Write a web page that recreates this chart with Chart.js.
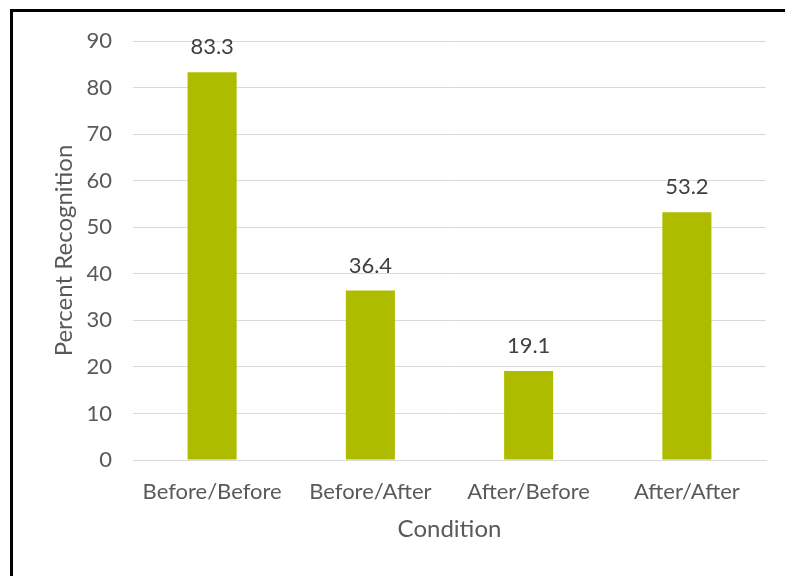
<!DOCTYPE html>
<html>
<head>
<meta charset="utf-8">
<script src="https://cdn.jsdelivr.net/npm/chart.js@4"></script>
<style>
  html, body { margin: 0; padding: 0; background: #fff; }
  #frame {
    position: absolute; left: 0; top: 0; width: 785px; height: 576px; overflow: hidden;
  }
  #edge {
    position: absolute; left: 10px; top: 9px; width: 800px; height: 600px;
    border-left: 3px solid #000; border-top: 3px solid #000; box-sizing: border-box;
  }
  canvas { position: absolute; left: 0; top: 0; }
</style>
</head>
<body>
<div id="frame">
  <canvas id="c" width="785" height="576"></canvas>
  <div id="edge"></div>
</div>
<script>
// Recognition rate per study condition
const conditions = ['Before/Before', 'Before/After', 'After/Before', 'After/After'];
const recognition = [83.3, 36.4, 19.1, 53.2];
const yTicks = [0, 10, 20, 30, 40, 50, 60, 70, 80, 90];

const FONT = 'Lato, "Open Sans", sans-serif';

// Writes each bar's value just above it
const valueLabels = {
  id: 'valueLabels',
  afterDatasetsDraw(chart) {
    const ctx = chart.ctx;
    const meta = chart.getDatasetMeta(0);
    ctx.save();
    ctx.font = '22px ' + FONT;
    ctx.fillStyle = '#404040';
    ctx.textAlign = 'center';
    ctx.textBaseline = 'middle';
    meta.data.forEach((bar, i) => {
      ctx.fillText(recognition[i].toFixed(1), bar.x, bar.y - 25);
    });
    ctx.restore();
  }
};

new Chart(document.getElementById('c'), {
  type: 'bar',
  data: {
    labels: conditions,
    datasets: [{
      data: recognition,
      backgroundColor: '#AEBC00',
      barPercentage: 0.62,
      categoryPercentage: 0.5
    }]
  },
  options: {
    responsive: false,
    animation: false,
    layout: { padding: { left: 0, right: 19, top: 41, bottom: 0 } },
    plugins: { legend: { display: false }, tooltip: { enabled: false } },
    scales: {
      x: {
        grid: { display: false, drawTicks: false },
        border: { color: '#D9D9D9', width: 1 },
        ticks: { color: '#595959', font: { family: FONT, size: 22 }, padding: 19 },
        title: {
          display: true, text: 'Condition', color: '#595959',
          font: { family: FONT, size: 24 }, padding: { top: 0, bottom: 32 }
        },
        afterFit(scale) { scale.height = 116; }
      },
      y: {
        min: 0, max: 90,
        afterBuildTicks(scale) { scale.ticks = yTicks.map(v => ({ value: v })); },
        grid: { color: '#D9D9D9', lineWidth: 1, drawTicks: false },
        border: { display: false },
        ticks: { color: '#595959', font: { family: FONT, size: 22 }, padding: 21 },
        title: {
          display: true, text: 'Percent Recognition', color: '#595959',
          font: { family: FONT, size: 24 }, padding: { top: 50, bottom: 0 }
        },
        afterFit(scale) { scale.width = 133; }
      }
    }
  },
  plugins: [valueLabels]
});
</script>
</body>
</html>
